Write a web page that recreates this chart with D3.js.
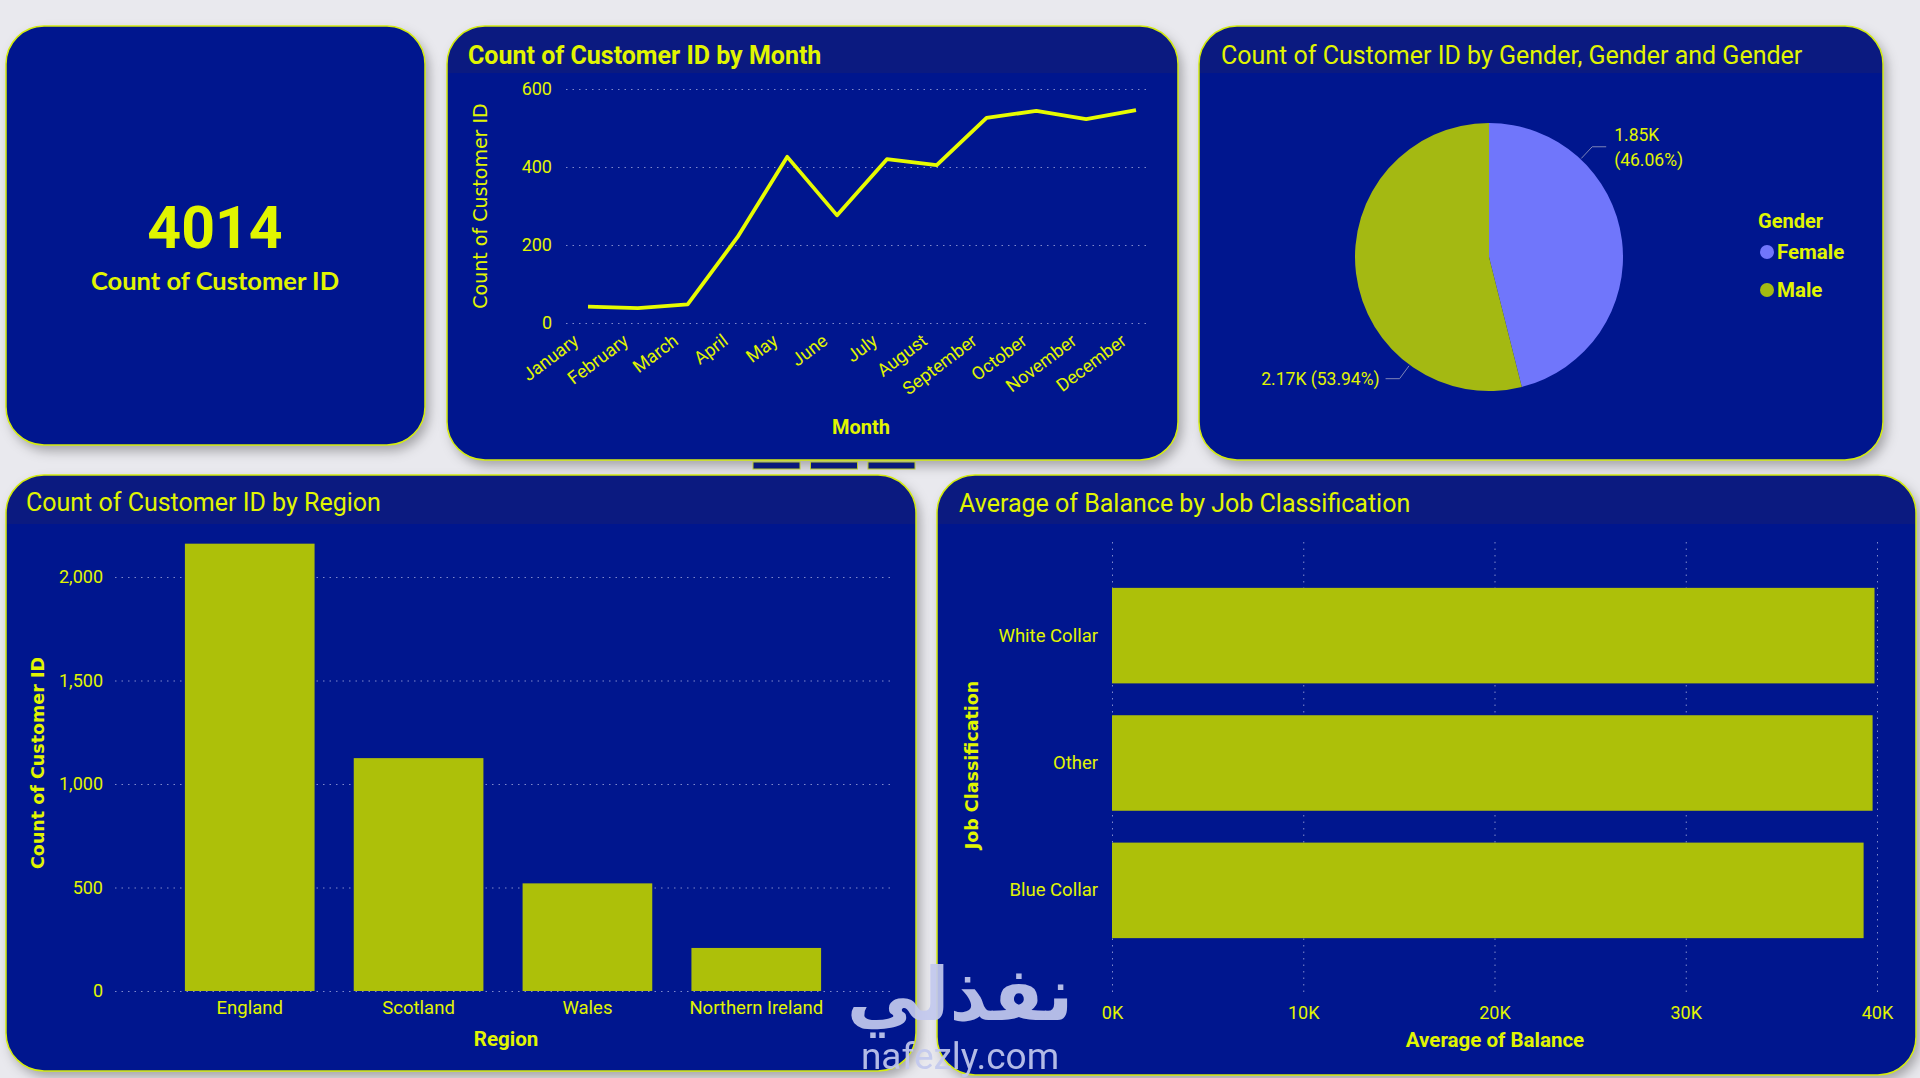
<!DOCTYPE html>
<html>
<head>
<meta charset="utf-8">
<script src="https://cdn.jsdelivr.net/npm/d3@7"></script>
<style>
  html, body { margin: 0; padding: 0; background: #e9e9ee; overflow: hidden; }
  svg { display: block; }
</style>
</head>
<body>
<div id="dash"></div>
<script>
// values
const totalCustomers = 4014;

const months = ["January", "February", "March", "April", "May", "June", "July",
  "August", "September", "October", "November", "December"];
const monthCounts = [42, 38, 48, 220, 426, 276, 420, 405, 526, 544, 523, 546];
const monthTicks = [0, 200, 400, 600];

const genders = ["Female", "Male"];
const genderCounts = [1849, 2165];
const genderColors = ["#7076fb", "#a4b912"];

const regions = ["England", "Scotland", "Wales", "Northern Ireland"];
const regionCounts = [2161, 1125, 520, 208];
const regionTicks = [0, 500, 1000, 1500, 2000];

const jobs = ["White Collar", "Other", "Blue Collar"];
const jobBalance = [39870, 39770, 39300];
const balanceTicks = [0, 10000, 20000, 30000, 40000];

const W = 1920, H = 1078;
const yellow = "#e1f500";
const barColor = "#adc009";
const din = "Roboto, 'DejaVu Sans', sans-serif";
const segoe = "'DejaVu Sans', sans-serif";

const svg = d3.select("#dash")
  .append("svg")
  .attr("width", W)
  .attr("height", H);

const defs = svg.append("defs");
defs.append("filter")
  .attr("id", "shadow")
  .attr("x", "-10%").attr("y", "-10%")
  .attr("width", "130%").attr("height", "130%")
  .append("feDropShadow")
  .attr("dx", 4).attr("dy", 6)
  .attr("stdDeviation", 6)
  .attr("flood-color", "#000")
  .attr("flood-opacity", 0.3);

function card(id, x, y, w, h, header) {
  defs.append("clipPath").attr("id", "clip-" + id)
    .append("rect")
    .attr("x", x).attr("y", y).attr("width", w).attr("height", h).attr("rx", 38);
  const g = svg.append("g").attr("id", id);
  g.append("rect")
    .attr("x", x).attr("y", y).attr("width", w).attr("height", h).attr("rx", 38)
    .attr("fill", "#03188e")
    .attr("filter", "url(#shadow)");
  if (header) {
    g.append("rect")
      .attr("clip-path", "url(#clip-" + id + ")")
      .attr("x", x).attr("y", y).attr("width", w).attr("height", header)
      .attr("fill", "#0b1a80");
  }
  g.append("rect")
    .attr("x", x).attr("y", y).attr("width", w).attr("height", h).attr("rx", 38)
    .attr("fill", "none")
    .attr("stroke", "#d4ec10")
    .attr("stroke-width", 1.5);
  return g;
}

function title(g, x, y, text, weight) {
  g.append("text")
    .attr("x", x).attr("y", y)
    .attr("fill", yellow)
    .attr("font-family", din)
    .attr("font-size", 25)
    .attr("font-weight", weight)
    .text(text);
}

function styleAxis(sel, size) {
  sel.select(".domain").remove();
  sel.selectAll(".tick line")
    .attr("stroke", "#a9b0e0")
    .attr("stroke-opacity", 0.75)
    .attr("stroke-dasharray", "1.5,5");
  sel.selectAll(".tick text")
    .attr("fill", yellow)
    .attr("font-family", din)
    .attr("font-size", size);
}

// ---- KPI card
const kpi = card("kpi", 6, 26, 419, 419, 0);
kpi.append("text")
  .attr("x", 215).attr("y", 248)
  .attr("text-anchor", "middle")
  .attr("fill", yellow)
  .attr("font-family", din)
  .attr("font-weight", "bold")
  .attr("font-size", 59)
  .text(totalCustomers);
kpi.append("text")
  .attr("x", 215).attr("y", 290)
  .attr("text-anchor", "middle")
  .attr("fill", yellow)
  .attr("font-family", "Lato, sans-serif")
  .attr("font-weight", "bold")
  .attr("font-size", 25.5)
  .text("Count of Customer ID");

// ---- line chart by month
const lineCard = card("month", 447, 26, 731, 434, 47);
title(lineCard, 468, 64, "Count of Customer ID by Month", "bold");

const mx = d3.scalePoint().domain(months).range([588, 1136]);
const my = d3.scaleLinear().domain([0, 600]).range([323, 89]);

lineCard.append("g")
  .attr("transform", "translate(566,0)")
  .call(d3.axisLeft(my).tickValues(monthTicks).tickSize(-585).tickPadding(14))
  .call(styleAxis, 18);

lineCard.append("path")
  .datum(monthCounts)
  .attr("fill", "none")
  .attr("stroke", "#e6fb00")
  .attr("stroke-width", 3.8)
  .attr("stroke-linejoin", "round")
  .attr("d", d3.line().x((d, i) => mx(months[i])).y(d => my(d)));

lineCard.append("g")
  .selectAll("text")
  .data(months)
  .join("text")
  .attr("transform", d => `translate(${mx(d) - 16},333) rotate(-37)`)
  .attr("text-anchor", "end")
  .attr("dy", "0.71em")
  .attr("fill", yellow)
  .attr("font-family", din)
  .attr("font-size", 18)
  .text(d => d);

lineCard.append("text")
  .attr("x", 861).attr("y", 434)
  .attr("text-anchor", "middle")
  .attr("fill", yellow)
  .attr("font-family", din)
  .attr("font-weight", "bold")
  .attr("font-size", 20)
  .text("Month");

lineCard.append("text")
  .attr("transform", "translate(487,206) rotate(-90)")
  .attr("text-anchor", "middle")
  .attr("fill", yellow)
  .attr("font-family", segoe)
  .attr("font-size", 19)
  .text("Count of Customer ID");

// ---- pie by gender
const pieCard = card("gender", 1199, 26, 684, 434, 47);
title(pieCard, 1221, 64, "Count of Customer ID by Gender, Gender and Gender", "normal");

const cx = 1489, cy = 257, r = 134;
const arcs = d3.pie().sort(null)(genderCounts);
const arc = d3.arc().innerRadius(0).outerRadius(r);
const pieG = pieCard.append("g").attr("transform", `translate(${cx},${cy})`);

pieG.selectAll("path")
  .data(arcs)
  .join("path")
  .attr("fill", (d, i) => genderColors[i])
  .attr("d", arc);

const total = d3.sum(genderCounts);
arcs.forEach((d, i) => {
  const a = d.startAngle + (d.endAngle - d.startAngle) * 0.26;
  const p1 = [Math.sin(a) * (r + 1), -Math.cos(a) * (r + 1)];
  const p2 = [Math.sin(a) * (r + 17), -Math.cos(a) * (r + 17)];
  const side = Math.sin(a) > 0 ? 1 : -1;
  const p3 = [p2[0] + side * 14, p2[1]];
  pieG.append("polyline")
    .attr("points", [p1, p2, p3].map(p => p.join(",")).join(" "))
    .attr("fill", "none")
    .attr("stroke", "#7f86b8")
    .attr("stroke-width", 1);
  const k = (Math.round(genderCounts[i] / 10) / 100).toFixed(2) + "K";
  const pct = "(" + (genderCounts[i] / total * 100).toFixed(2) + "%)";
  const t = pieG.append("text")
    .attr("fill", yellow)
    .attr("font-family", din)
    .attr("font-size", 17.5);
  if (side > 0) {
    t.attr("x", p3[0] + 8).attr("y", p3[1] - 6);
    t.append("tspan").attr("x", p3[0] + 8).text(k);
    t.append("tspan").attr("x", p3[0] + 8).attr("dy", 25).text(pct);
  } else {
    t.attr("x", p3[0] - 6).attr("y", p3[1] + 6)
      .attr("text-anchor", "end")
      .text(k + " " + pct);
  }
});

const legend = pieCard.append("g").attr("transform", "translate(1758,228)");
legend.append("text")
  .attr("fill", yellow)
  .attr("font-family", din)
  .attr("font-weight", "bold")
  .attr("font-size", 20)
  .text("Gender");
const items = legend.selectAll("g.item")
  .data(genders)
  .join("g")
  .attr("class", "item")
  .attr("transform", (d, i) => `translate(9,${24 + i * 38})`);
items.append("circle")
  .attr("r", 7)
  .attr("fill", (d, i) => genderColors[i]);
items.append("text")
  .attr("x", 10)
  .attr("dy", "0.36em")
  .attr("fill", yellow)
  .attr("font-family", din)
  .attr("font-weight", "bold")
  .attr("font-size", 20.5)
  .text(d => d);

// ---- bars by region
const regionCard = card("region", 6, 475, 910, 596, 49);
title(regionCard, 26, 511, "Count of Customer ID by Region", "normal");

const rx = d3.scaleBand().domain(regions).range([115, 891]).paddingInner(0.232).paddingOuter(0.414);
const ry = d3.scaleLinear().domain([0, 2000]).range([991, 577]);

regionCard.append("g")
  .attr("transform", "translate(115,0)")
  .call(d3.axisLeft(ry).tickValues(regionTicks).tickFormat(d3.format(",")).tickSize(-776).tickPadding(12))
  .call(styleAxis, 18);

regionCard.append("g")
  .selectAll("rect")
  .data(regions)
  .join("rect")
  .attr("x", d => rx(d))
  .attr("width", rx.bandwidth())
  .attr("y", (d, i) => ry(regionCounts[i]))
  .attr("height", (d, i) => ry(0) - ry(regionCounts[i]))
  .attr("fill", barColor);

regionCard.append("g")
  .attr("transform", "translate(0,991)")
  .call(d3.axisBottom(rx).tickSize(0).tickPadding(10))
  .call(styleAxis, 18.5);

regionCard.append("text")
  .attr("x", 506).attr("y", 1046)
  .attr("text-anchor", "middle")
  .attr("fill", yellow)
  .attr("font-family", din)
  .attr("font-weight", "bold")
  .attr("font-size", 20.5)
  .text("Region");

regionCard.append("text")
  .attr("transform", "translate(44,763) rotate(-90)")
  .attr("text-anchor", "middle")
  .attr("fill", yellow)
  .attr("font-family", segoe)
  .attr("font-weight", "bold")
  .attr("font-size", 17.5)
  .text("Count of Customer ID");

// ---- bars by job classification
const jobCard = card("job", 937, 475, 979, 600, 49);
title(jobCard, 959, 512, "Average of Balance by Job Classification", "normal");

const jx = d3.scaleLinear().domain([0, 40000]).range([1112, 1877]);
const jy = d3.scaleBand().domain(jobs).range([542, 984]).paddingInner(0.25).paddingOuter(0.36);

jobCard.append("g")
  .attr("transform", "translate(0,992)")
  .call(d3.axisBottom(jx).tickValues(balanceTicks).tickFormat(d => d / 1000 + "K").tickSize(-450).tickPadding(14))
  .call(styleAxis, 18);

jobCard.append("g")
  .selectAll("rect")
  .data(jobs)
  .join("rect")
  .attr("x", jx(0))
  .attr("y", d => jy(d))
  .attr("height", jy.bandwidth())
  .attr("width", (d, i) => jx(jobBalance[i]) - jx(0))
  .attr("fill", barColor);

jobCard.append("g")
  .attr("transform", "translate(1112,0)")
  .call(d3.axisLeft(jy).tickSize(0).tickPadding(14))
  .call(styleAxis, 18.5);

jobCard.append("text")
  .attr("x", 1495).attr("y", 1047)
  .attr("text-anchor", "middle")
  .attr("fill", yellow)
  .attr("font-family", din)
  .attr("font-weight", "bold")
  .attr("font-size", 20.5)
  .text("Average of Balance");

jobCard.append("text")
  .attr("transform", "translate(978,765) rotate(-90)")
  .attr("text-anchor", "middle")
  .attr("fill", yellow)
  .attr("font-family", segoe)
  .attr("font-weight", "bold")
  .attr("font-size", 17.5)
  .text("Job Classification");

// ---- page indicators under the line chart
svg.append("g")
  .selectAll("rect")
  .data([0, 1, 2])
  .join("rect")
  .attr("x", d => 753 + d * 57.5)
  .attr("y", 462)
  .attr("width", 47)
  .attr("height", 7)
  .attr("fill", "#0a1a7a")
  .attr("stroke", "#b9cc2a")
  .attr("stroke-width", 1);

// ---- watermark
const wm = svg.append("g").attr("opacity", 0.92);
wm.append("text")
  .attr("x", 960).attr("y", 1020)
  .attr("text-anchor", "middle")
  .attr("fill", "#c3c9ee")
  .attr("font-family", "'DejaVu Sans', sans-serif")
  .attr("font-weight", "bold")
  .attr("font-size", 74)
  .text("نفذلي");
wm.append("text")
  .attr("x", 960).attr("y", 1069)
  .attr("text-anchor", "middle")
  .attr("fill", "#c3c9ee")
  .attr("font-family", "Roboto, sans-serif")
  .attr("font-size", 37)
  .text("nafezly.com");
</script>
</body>
</html>
